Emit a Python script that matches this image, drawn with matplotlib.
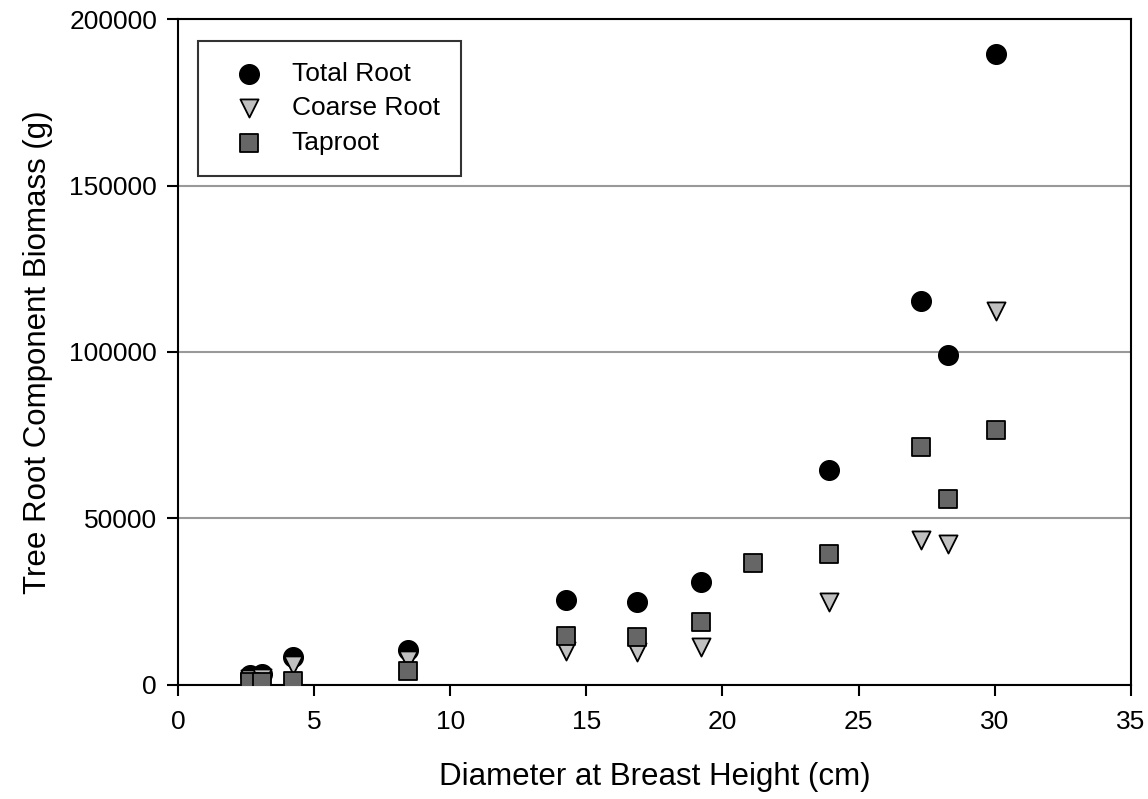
import numpy as np
import matplotlib.pyplot as plt

plt.rcParams['font.family'] = ['Liberation Sans', 'DejaVu Sans']

# Diameter at breast height (cm) for each tree
dbh_total = [2.64, 3.07, 4.21, 8.46, 14.27, 16.87, 19.23, 23.9, 27.3, 28.3, 30.05]
total_root = [3000, 3200, 8500, 10500, 25500, 25000, 31000, 64700, 115200, 99000, 189600]

dbh_coarse = [2.64, 3.07, 4.21, 8.46, 14.27, 16.87, 19.23, 23.9, 27.3, 28.3, 30.05]
coarse_root = [1800, 2000, 6000, 7500, 10300, 10000, 11500, 25000, 43400, 42300, 112300]

dbh_tap = [2.64, 3.07, 4.21, 8.46, 14.27, 16.87, 19.23, 21.13, 23.9, 27.3, 28.3, 30.05]
taproot = [800, 900, 1300, 4200, 14700, 14500, 19000, 36700, 39200, 71600, 56000, 76500]

fig = plt.figure(figsize=(11.48, 7.99), dpi=100)
ax = fig.add_axes([0.155, 0.1427, 0.83, 0.8335])

ax.scatter(dbh_total, total_root, s=200, marker='o', color='black',
           edgecolors='black', linewidths=1, label='Total Root', zorder=3)
ax.scatter(dbh_coarse, coarse_root, s=170, marker='v', color='#c0c0c0',
           edgecolors='black', linewidths=1.3, label='Coarse Root', zorder=4)
ax.scatter(dbh_tap, taproot, s=180, marker='s', color='#666666',
           edgecolors='black', linewidths=1.3, label='Taproot', zorder=5)

ax.set_xlim(0, 35)
ax.set_ylim(0, 200000)
ax.set_xticks(np.arange(0, 36, 5))
ax.set_yticks(np.arange(0, 200001, 50000))
ax.yaxis.grid(True, color='#999999', linewidth=1.5)
ax.set_axisbelow(True)

for sp in ax.spines.values():
    sp.set_linewidth(1.5)
ax.tick_params(axis='both', direction='out', length=8, width=1.5, labelsize=19, pad=7)
ax.tick_params(axis='x', pad=10)

ax.set_xlabel('Diameter at Breast Height (cm)', fontsize=22.5, labelpad=20)
ax.set_ylabel('Tree Root Component Biomass (g)', fontsize=22.5, labelpad=12)

leg = ax.legend(loc='upper left', bbox_to_anchor=(0.021, 0.967), fontsize=19,
                frameon=True, fancybox=False, borderpad=0.8, labelspacing=0.39,
                handletextpad=0.45, borderaxespad=0, handlelength=2.3)
leg.get_frame().set_edgecolor('black')
leg.get_frame().set_linewidth(1.5)

fig.savefig('out.png', dpi=100)
